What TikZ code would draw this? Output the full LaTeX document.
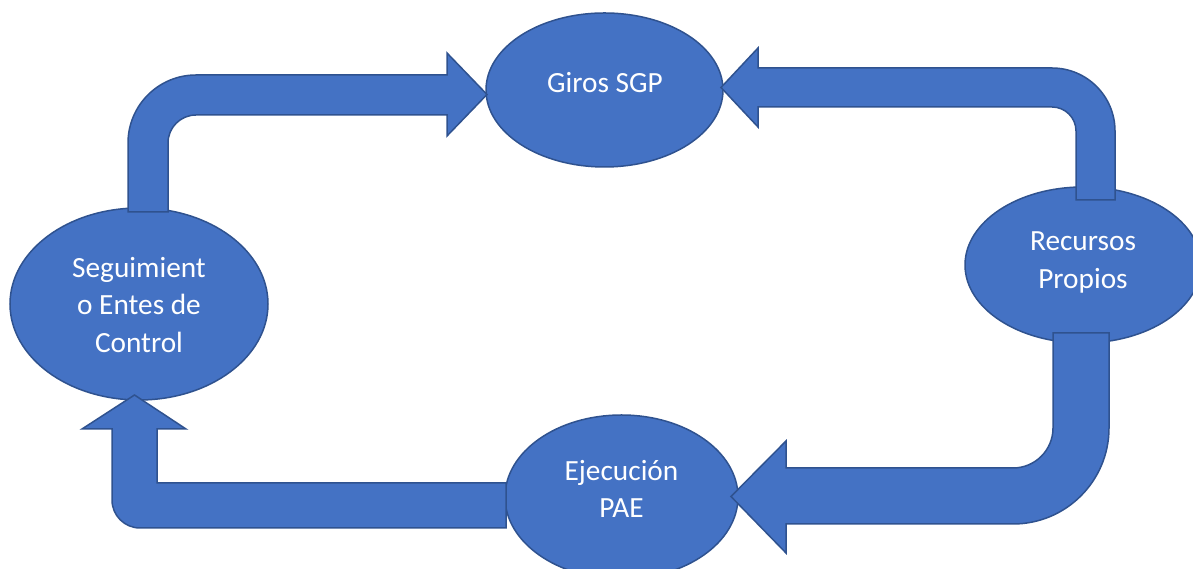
\documentclass[tikz,border=0pt]{standalone}
\usepackage{fontspec}
\setmainfont{Carlito}
\usetikzlibrary{shapes.geometric}
\definecolor{blkfill}{HTML}{4472C4}
\definecolor{blkline}{HTML}{2F528F}
\tikzset{
  oval/.style={ellipse, fill=blkfill, draw=blkline, line width=1.5pt, inner sep=0pt},
  blockarrow/.style={fill=blkfill, draw=blkline, line width=1.5pt, line join=miter},
  lbl/.style={text=white, align=center, inner sep=0pt, font=\fontsize{29.3}{37.5}\selectfont}
}
\begin{document}
\begin{tikzpicture}[x=1pt,y=1pt]
\useasboundingbox (0,0) rectangle (1193,569);
% ellipses
\node[oval, minimum width=237pt, minimum height=154pt] (giros) at (604.5,479) {};
\node[oval, minimum width=258pt, minimum height=192pt] (segui) at (139,265) {};
\node[oval, minimum width=236pt, minimum height=156pt] (recur) at (1083,304) {};
\node[oval, minimum width=233pt, minimum height=164pt] (ejec) at (621.5,72) {};
% block arrows
% top-left: Seguimiento -> Giros
\draw[blockarrow] (128,357) -- (128,426) arc[start angle=180, end angle=90, radius=68]
  -- (447,494) -- (447,516) -- (487,474.5) -- (447,433) -- (447,454) -- (196,454)
  arc[start angle=90, end angle=180, radius=28] -- (168,357) -- cycle;
% top-right: Recursos -> Giros
\draw[blockarrow] (1115,369) -- (1115,438) arc[start angle=0, end angle=90, radius=63]
  -- (758,501) -- (758,521) -- (721,481.5) -- (758,442) -- (758,462) -- (1052,462)
  arc[start angle=90, end angle=0, radius=24] -- (1076,369) -- cycle;
% bottom-right: Recursos -> Ejecucion
\draw[blockarrow] (1053,236) -- (1053,141) arc[start angle=0, end angle=-90, radius=40]
  -- (786,101) -- (786,128) -- (731,72.5) -- (786,16) -- (786,45) -- (1013,45)
  arc[start angle=-90, end angle=0, radius=96] -- (1109,236) -- cycle;
% bottom-left: Ejecucion -> Seguimiento
\draw[blockarrow] (506,86) -- (157,86) -- (157,140) -- (186,140) -- (134.5,174)
  -- (82,140) -- (112,140) -- (112,69) arc[start angle=180, end angle=270, radius=28]
  -- (506,41) -- cycle;
% labels
\node[lbl] (tgiros) at ([shift={(0.5,7)}]giros.center) {Giros SGP};
\node[lbl] (tsegui) at ([shift={(0,-1)}]segui.center) {Seguimient\\o Entes de\\Control};
\node[lbl] (trecur) at ([shift={(0,2.5)}]recur.center) {Recursos\\Propios};
\node[lbl] (tejec) at ([shift={(0,8)}]ejec.center) {Ejecución\\PAE};
\end{tikzpicture}
\end{document}
